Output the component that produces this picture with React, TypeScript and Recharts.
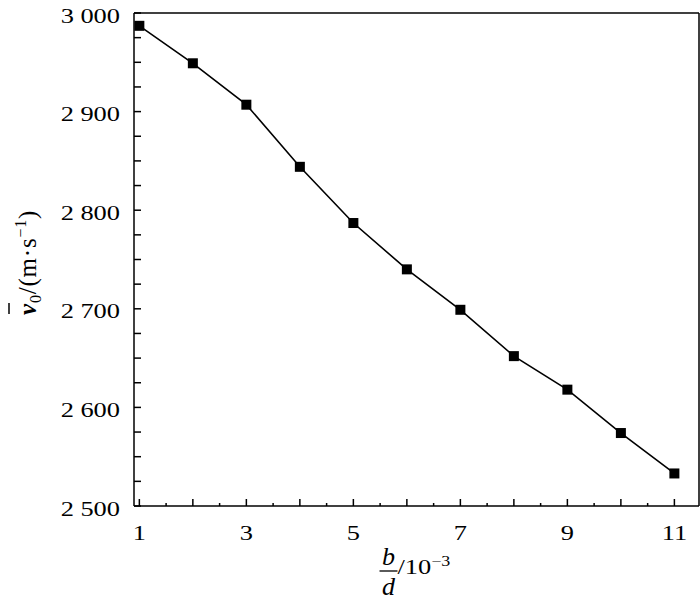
import * as React from 'react'
import { LineChart, Line, XAxis, YAxis, ReferenceLine } from 'recharts'

// b/d (x 10^-3) against mean velocity v0 (m/s)
const ratio = [1, 2, 3, 4, 5, 6, 7, 8, 9, 10, 11]
const velocity = [2987, 2949, 2907, 2844, 2787, 2740, 2699, 2652, 2618, 2574, 2533]

const xTicks = [1, 1.5, 2, 2.5, 3, 3.5, 4, 4.5, 5, 5.5, 6, 6.5, 7, 7.5, 8, 8.5, 9, 9.5, 10, 10.5, 11]
const xLabelled = [1, 3, 5, 7, 9, 11]
const yTicks = [
  2500, 2525, 2550, 2575, 2600, 2625, 2650, 2675, 2700, 2725, 2750,
  2775, 2800, 2825, 2850, 2875, 2900, 2925, 2950, 2975, 3000,
]
const yLabelled = [2500, 2600, 2700, 2800, 2900, 3000]

const X_MIN = 0.9
const X_MAX = 11.46

const FONT = 'Liberation Serif, Tinos, Times New Roman, Times, serif'
const serif = { fontFamily: FONT }

const data = ratio.map((x, i) => ({ x, v: velocity[i] }))

const fmt = (v: number) => `${Math.floor(v / 1000)} ${String(v % 1000).padStart(3, '0')}`

function XTick({ x, y, payload }: any) {
  const v = payload.value
  const major = Number.isInteger(v)
  return (
    <g>
      <line x1={x} x2={x} y1={y} y2={y - (major ? 7 : 3)} stroke="#000" strokeWidth={1.5} />
      {xLabelled.includes(v) && (
        <text
          transform={`translate(${x},${y + 33.5}) scale(1.2,1)`}
          textAnchor="middle"
          fontSize={22}
          style={serif}
          fill="#000"
        >
          {v}
        </text>
      )}
    </g>
  )
}

function YTick({ x, y, payload }: any) {
  const v = payload.value
  return (
    <g>
      <line x1={x} x2={x + 7} y1={y} y2={y} stroke="#000" strokeWidth={1.5} />
      {yLabelled.includes(v) && (
        <text
          transform={`translate(${x - 14},${y + 9.5}) scale(1.2,1)`}
          textAnchor="end"
          fontSize={22}
          style={serif}
          fill="#000"
        >
          {fmt(v)}
        </text>
      )}
    </g>
  )
}

// rotated label, drawn from the bottom up
function YLabel() {
  return (
    <g transform="translate(36,315) rotate(-90)">
      <line x1={1} x2={12} y1={-27} y2={-27} stroke="#000" strokeWidth={1.5} />
      <text x={0} y={0} textAnchor="start" fontSize={25} style={serif} fill="#000" letterSpacing={0.8}>
        <tspan fontStyle="italic" fontWeight="bold">v</tspan>
        <tspan fontSize={16} dy={5}>0</tspan>
        <tspan dy={-5}>/(m·s</tspan>
        <tspan fontSize={16} dy={-10}>−1</tspan>
        <tspan dy={10}>)</tspan>
      </text>
    </g>
  )
}

function XLabel({ viewBox }: any) {
  const cx = viewBox.x + viewBox.width / 2 - 28
  const y0 = viewBox.y
  return (
    <g style={serif} fill="#000">
      <text x={cx} y={y0 + 59} textAnchor="middle" fontSize={26} fontStyle="italic">b</text>
      <line x1={cx - 9} x2={cx + 9} y1={y0 + 65} y2={y0 + 65} stroke="#000" strokeWidth={1.3} />
      <text x={cx} y={y0 + 89} textAnchor="middle" fontSize={26} fontStyle="italic">d</text>
      <text transform={`translate(${cx + 9},${y0 + 68}) scale(1.2,1)`} fontSize={22}>
        /10
        <tspan fontSize={15} dy={-8}>−3</tspan>
      </text>
    </g>
  )
}

const Square = (props: any) => {
  const { cx, cy, index } = props
  return <rect key={index} x={cx - 5} y={cy - 5} width={10} height={10} fill="#000" />
}

export default function App() {
  return (
    <div style={{ position: 'absolute', left: 0, top: 0, width: 700, height: 604, background: '#fff' }}>
      <LineChart width={700} height={604} data={data} margin={{ top: 13, right: 1, bottom: 38, left: 0 }}>
        <XAxis
          dataKey="x"
          type="number"
          domain={[X_MIN, X_MAX]}
          ticks={xTicks}
          interval={0}
          height={60}
          tickSize={0}
          tickMargin={0}
          tick={<XTick />}
          axisLine={{ stroke: '#000', strokeWidth: 1.5 }}
          label={{ content: (p: any) => <XLabel {...p} /> }}
        />
        <YAxis
          type="number"
          domain={[2500, 3000]}
          ticks={yTicks}
          interval={0}
          width={134}
          tickSize={0}
          tickMargin={0}
          tick={<YTick />}
          axisLine={{ stroke: '#000', strokeWidth: 1.5 }}
          label={{ content: () => <YLabel /> }}
        />
        <ReferenceLine y={3000} stroke="#000" strokeWidth={1.5} />
        <ReferenceLine x={X_MAX} stroke="#000" strokeWidth={1.5} />
        <Line
          dataKey="v"
          stroke="#000"
          strokeWidth={1.6}
          dot={Square}
          activeDot={false}
          isAnimationActive={false}
        />
      </LineChart>
    </div>
  )
}
